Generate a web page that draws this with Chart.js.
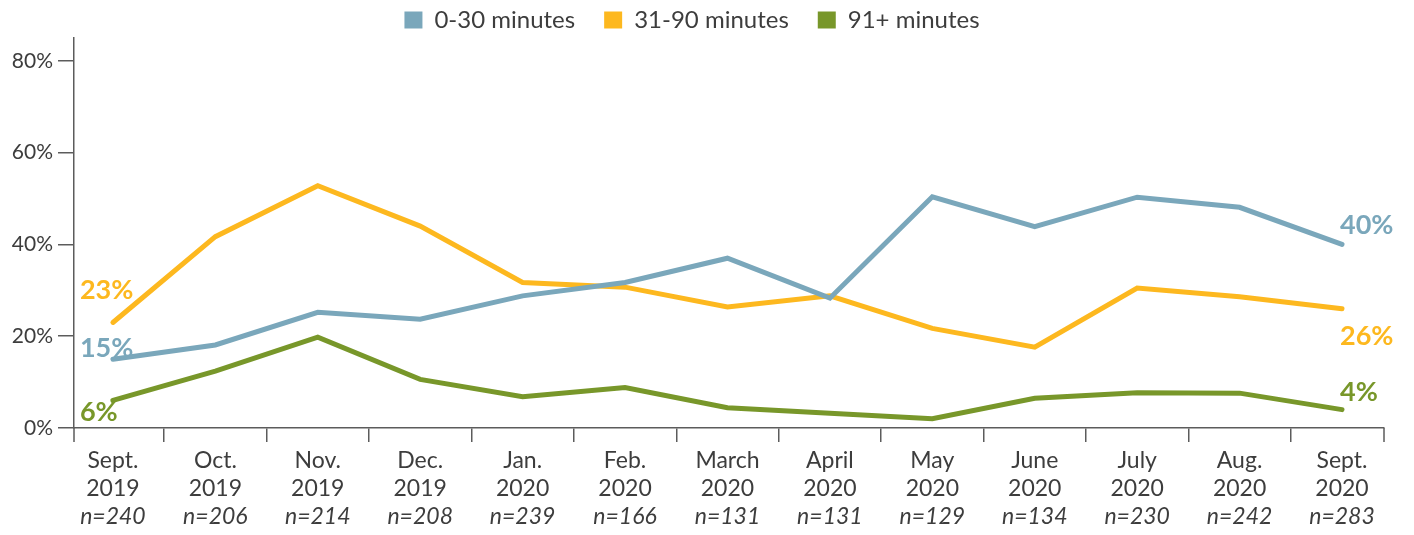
<!DOCTYPE html>
<html>
<head>
<meta charset="utf-8">
<script src="https://cdn.jsdelivr.net/npm/chart.js@4.4.0/dist/chart.umd.min.js"></script>
<style>
  html, body { margin: 0; padding: 0; background: #fff; }
  #wrap { width: 1414px; height: 535px; }
</style>
</head>
<body>
<div id="wrap"><canvas id="commute"></canvas></div>
<script>
const months = ['Sept.', 'Oct.', 'Nov.', 'Dec.', 'Jan.', 'Feb.', 'March', 'April', 'May', 'June', 'July', 'Aug.', 'Sept.'];
const years = ['2019', '2019', '2019', '2019', '2020', '2020', '2020', '2020', '2020', '2020', '2020', '2020', '2020'];
const sampleSizes = ['n=240', 'n=206', 'n=214', 'n=208', 'n=239', 'n=166', 'n=131', 'n=131', 'n=129', 'n=134', 'n=230', 'n=242', 'n=283'];

const short = [15, 18.1, 25.2, 23.7, 28.8, 31.7, 37.0, 28.3, 50.4, 43.9, 50.3, 48.1, 40];
const medium = [23, 41.7, 52.8, 44.0, 31.7, 30.7, 26.4, 28.8, 21.7, 17.6, 30.5, 28.6, 26];
const long = [6, 12.4, 19.8, 10.6, 6.8, 8.8, 4.4, 3.2, 2.0, 6.5, 7.7, 7.6, 4];

const yTicks = [0, 20, 40, 60, 80];

const blue = '#7aa7bb';
const yellow = '#fdb81f';
const green = '#78972a';
const ink = '#3d3d3d';
const axisGrey = '#5c5c5c';

// end labels: [dataset, point index, dx, dy]
const endLabels = [
  [0, 0, -33, -11], [1, 0, -33, -32], [2, 0, -33, 12],
  [0, 12, -2, -19], [1, 12, -2, 28], [2, 12, -2, -17]
];

const toPoints = arr => arr.map((v, i) => ({x: i, y: v}));

let ctx = document.getElementById('commute').getContext('2d');

// legend sits higher than chart.js puts it by default
const legendSpot = {
  id: 'legendSpot',
  beforeInit(chart) {
    const fit = chart.legend.fit;
    chart.legend.fit = function () {
      fit.bind(chart.legend)();
      this.height = 38;
    };
  },
  afterLayout(chart) {
    chart.legend.top -= 21;
  }
};

// italic sample sizes under the month labels, end ticks, and the % labels at both ends
const extras = {
  id: 'extras',
  afterDraw(chart) {
    const c = chart.ctx;
    const xs = chart.scales.x;
    c.save();
    c.strokeStyle = axisGrey;
    c.lineWidth = 1.5;
    c.beginPath();
    c.moveTo(xs.left, xs.top);
    c.lineTo(xs.left, xs.top + 14);
    c.moveTo(xs.right, xs.top);
    c.lineTo(xs.right, xs.top + 14);
    c.stroke();

    c.fillStyle = ink;
    c.font = 'italic 23px Lato';
    c.textAlign = 'center';
    c.textBaseline = 'middle';
    sampleSizes.forEach((s, i) => {
      c.fillText(s, xs.getPixelForValue(i), xs.top + 14 + 5 + 28 * 2 + 14);
    });

    c.font = 'bold 27px Lato';
    c.textAlign = 'left';
    endLabels.forEach(([ds, idx, dx, dy]) => {
      const pt = chart.getDatasetMeta(ds).data[idx];
      const val = chart.data.datasets[ds].data[idx].y;
      c.fillStyle = chart.data.datasets[ds].borderColor;
      c.fillText(Math.round(val) + '%', pt.x + dx, pt.y + dy);
    });
    c.restore();
  }
};

let commuteChart = new Chart(ctx, {
  type: 'line',
  data: {
    datasets: [
      {label: '0-30 minutes', data: toPoints(short), borderColor: blue, backgroundColor: blue},
      {label: '31-90 minutes', data: toPoints(medium), borderColor: yellow, backgroundColor: yellow},
      {label: '91+ minutes', data: toPoints(long), borderColor: green, backgroundColor: green}
    ]
  },
  options: {
    responsive: true,
    maintainAspectRatio: false,
    animation: false,
    layout: {padding: {left: 0, right: 30, top: 0, bottom: 0}},
    elements: {
      line: {borderWidth: 5, tension: 0, borderCapStyle: 'round', borderJoinStyle: 'miter'},
      point: {radius: 0, hoverRadius: 0}
    },
    plugins: {
      legend: {
        position: 'top',
        align: 'center',
        labels: {
          boxWidth: 18,
          boxHeight: 17,
          padding: 29,
          color: ink,
          font: {family: 'Lato', size: 24},
          generateLabels: chart => Chart.defaults.plugins.legend.labels.generateLabels(chart)
            .map(item => Object.assign(item, {lineWidth: 0}))
        }
      },
      tooltip: {enabled: false}
    },
    scales: {
      x: {
        type: 'linear',
        min: -0.38,
        max: 12.41,
        afterBuildTicks: scale => { scale.ticks = months.map((m, i) => ({value: i})); },
        afterFit: scale => { scale.height = 107; },
        ticks: {
          autoSkip: false,
          maxRotation: 0,
          padding: 5,
          color: ink,
          font: {family: 'Lato', size: 23, lineHeight: '28px'},
          callback: (value, index) => [months[index], years[index]]
        },
        grid: {
          offset: true,
          drawOnChartArea: false,
          tickLength: 14,
          color: axisGrey,
          lineWidth: 1.5
        },
        border: {color: axisGrey, width: 1.5}
      },
      y: {
        min: 0,
        max: 85,
        afterBuildTicks: scale => { scale.ticks = yTicks.map(v => ({value: v})); },
        afterFit: scale => { scale.width = 74; },
        ticks: {
          padding: 5,
          color: ink,
          font: {family: 'Lato', size: 21},
          callback: v => v + '%'
        },
        grid: {
          drawOnChartArea: false,
          tickLength: 16,
          color: axisGrey,
          lineWidth: 1.5
        },
        border: {color: axisGrey, width: 1.5}
      }
    }
  },
  plugins: [legendSpot, extras]
});
</script>
</body>
</html>
